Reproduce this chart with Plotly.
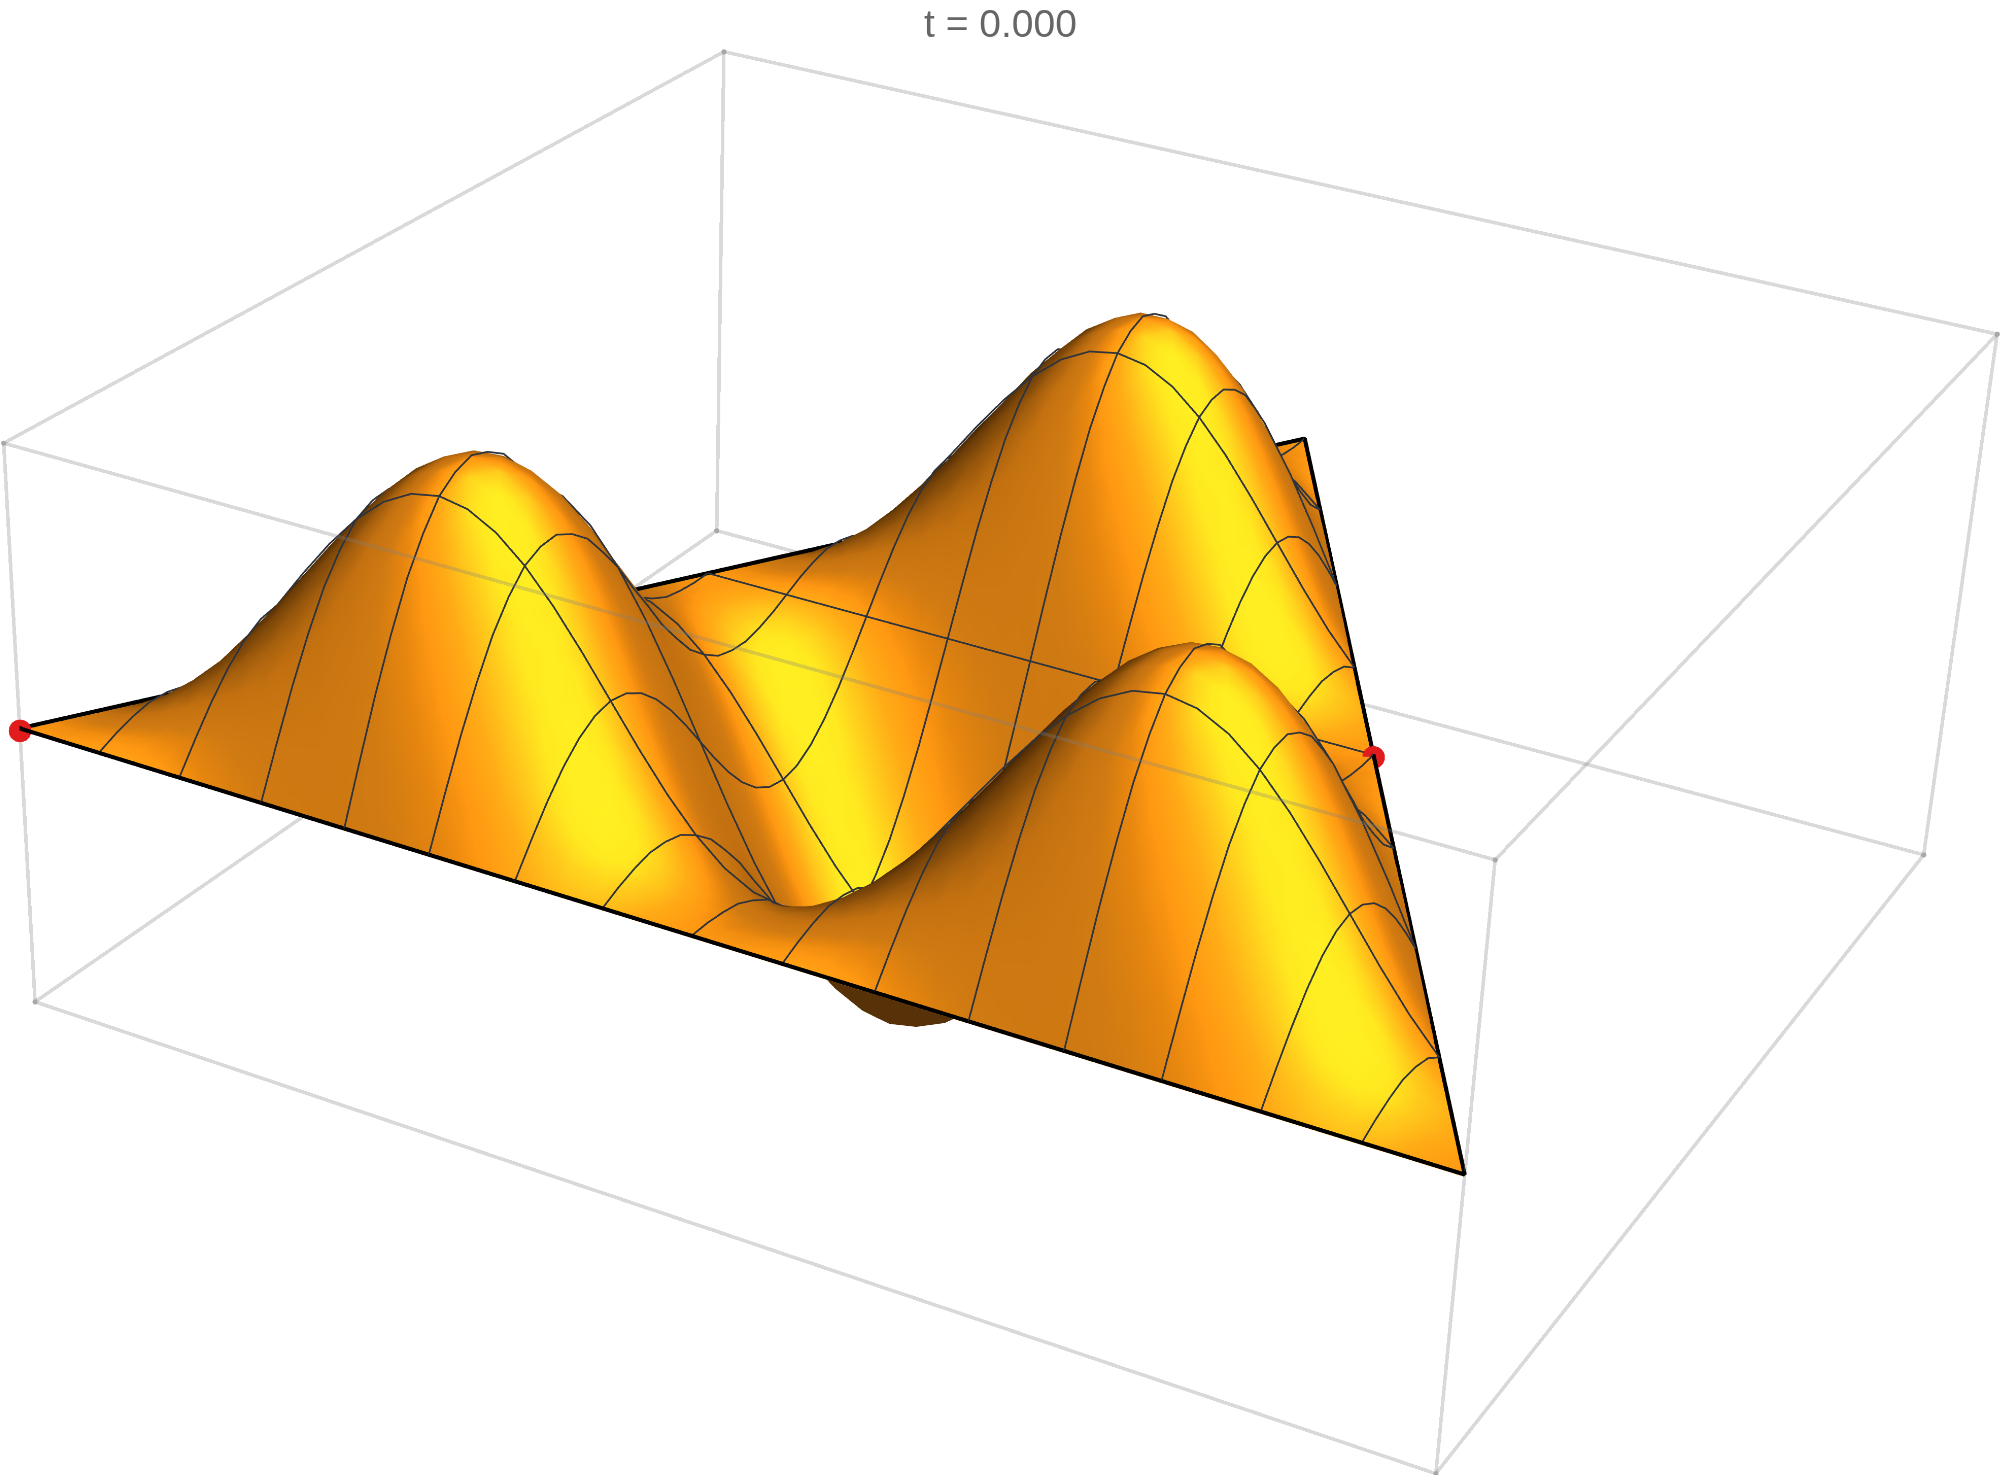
import numpy as np
import plotly.graph_objects as go

# ---- surface heights: one list per lattice row, repeating along the row
P0=[0]*24
P1=[0,.018,.052,.1,.159,.225,.293,.359,.418,.466,.5,.518,.518,.5,.466,.418,.359,.293,.225,.159,.1,.052,.018,0]
P2=[0,.052,.134,.241,.366,.5,.634,.759,.866,.948,1,1.018,1,.948,.866,.759,.634,.5,.366,.241,.134,.052,0,-.018]
P3=[0,.1,.241,.414,.607,.807,1,1.173,1.314,1.414,1.466,1.466,1.414,1.314,1.173,1,.807,.607,.414,.241,.1,0,-.052,-.052]
P4=[0,.159,.366,.607,.866,1.125,1.366,1.573,1.732,1.832,1.866,1.832,1.732,1.573,1.366,1.125,.866,.607,.366,.159,0,-.1,-.134,-.1]
P5=[0,.225,.5,.807,1.125,1.432,1.707,1.932,2.091,2.173,2.173,2.091,1.932,1.707,1.432,1.125,.807,.5,.225,0,-.159,-.241,-.241,-.159]
P6=[0,.293,.634,1,1.366,1.707,2,2.225,2.366,2.414,2.366,2.225,2,1.707,1.366,1,.634,.293,0,-.225,-.366,-.414,-.366,-.225]
P7=[0,.359,.759,1.173,1.573,1.932,2.225,2.432,2.539,2.539,2.432,2.225,1.932,1.573,1.173,.759,.359,0,-.293,-.5,-.607,-.607,-.5,-.293]
P8=[0,.418,.866,1.314,1.732,2.091,2.366,2.539,2.598,2.539,2.366,2.091,1.732,1.314,.866,.418,0,-.359,-.634,-.807,-.866,-.807,-.634,-.359]
P9=[0,.466,.948,1.414,1.832,2.173,2.414,2.539,2.539,2.414,2.173,1.832,1.414,.948,.466,0,-.418,-.759,-1,-1.125,-1.125,-1,-.759,-.418]
P10=[0,.5,1,1.466,1.866,2.173,2.366,2.432,2.366,2.173,1.866,1.466,1,.5,0,-.466,-.866,-1.173,-1.366,-1.432,-1.366,-1.173,-.866,-.466]
P11=[0,.518,1.018,1.466,1.832,2.091,2.225,2.225,2.091,1.832,1.466,1.018,.518,0,-.5,-.948,-1.314,-1.573,-1.707,-1.707,-1.573,-1.314,-.948,-.5]
P12=[0,.518,1,1.414,1.732,1.932,2,1.932,1.732,1.414,1,.518,0,-.518,-1,-1.414,-1.732,-1.932,-2,-1.932,-1.732,-1.414,-1,-.518]
P13=[0,.5,.948,1.314,1.573,1.707,1.707,1.573,1.314,.948,.5,0,-.518,-1.018,-1.466,-1.832,-2.091,-2.225,-2.225,-2.091,-1.832,-1.466,-1.018,-.518]
P14=[0,.466,.866,1.173,1.366,1.432,1.366,1.173,.866,.466,0,-.5,-1,-1.466,-1.866,-2.173,-2.366,-2.432,-2.366,-2.173,-1.866,-1.466,-1,-.5]
P15=[0,.418,.759,1,1.125,1.125,1,.759,.418,0,-.466,-.948,-1.414,-1.832,-2.173,-2.414,-2.539,-2.539,-2.414,-2.173,-1.832,-1.414,-.948,-.466]
P16=[0,.359,.634,.807,.866,.807,.634,.359,0,-.418,-.866,-1.314,-1.732,-2.091,-2.366,-2.539,-2.598,-2.539,-2.366,-2.091,-1.732,-1.314,-.866,-.418]
P17=[0,.293,.5,.607,.607,.5,.293,0,-.359,-.759,-1.173,-1.573,-1.932,-2.225,-2.432,-2.539,-2.539,-2.432,-2.225,-1.932,-1.573,-1.173,-.759,-.359]
P18=[0,.225,.366,.414,.366,.225,0,-.293,-.634,-1,-1.366,-1.707,-2,-2.225,-2.366,-2.414,-2.366,-2.225,-2,-1.707,-1.366,-1,-.634,-.293]
P19=[0,.159,.241,.241,.159,0,-.225,-.5,-.807,-1.125,-1.432,-1.707,-1.932,-2.091,-2.173,-2.173,-2.091,-1.932,-1.707,-1.432,-1.125,-.807,-.5,-.225]
P20=[0,.1,.134,.1,0,-.159,-.366,-.607,-.866,-1.125,-1.366,-1.573,-1.732,-1.832,-1.866,-1.832,-1.732,-1.573,-1.366,-1.125,-.866,-.607,-.366,-.159]
P21=[0,.052,.052,0,-.1,-.241,-.414,-.607,-.807,-1,-1.173,-1.314,-1.414,-1.466,-1.466,-1.414,-1.314,-1.173,-1,-.807,-.607,-.414,-.241,-.1]
P22=[0,.018,0,-.052,-.134,-.241,-.366,-.5,-.634,-.759,-.866,-.948,-1,-1.018,-1,-.948,-.866,-.759,-.634,-.5,-.366,-.241,-.134,-.052]
P23=[0,0,-.018,-.052,-.1,-.159,-.225,-.293,-.359,-.418,-.466,-.5,-.518,-.518,-.5,-.466,-.418,-.359,-.293,-.225,-.159,-.1,-.052,-.018]
PROFILES=[P0,P1,P2,P3,P4,P5,P6,P7,P8,P9,P10,P11,P12,P13,P14,P15,P16,P17,P18,P19,P20,P21,P22,P23]

N=48
ZMAX=2.635
TITLE="t = 0.000"
MESH_X=[k/16 for k in range(1,16)]
MESH_Y=[k/8 for k in range(1,8)]
RED_X=[0,.75]
RED_Y=[0,.5]
EDGE_X=[0,1,.5,0]
EDGE_Y=[0,0,1,0]

# ---- view, calibrated against the box corners of the reference
BY,CZ=.8661,.4007
EYE=(1.3122,-2.6251,1.4642)
CEN=(-.042,-.0235,-.0124)
UP=(-.2429,.3805,.892)
CX,CY=956.9,677.7
H=4090.0
W=2*max(CX,2000-CX)+2
LEFT=W/2-CX; TOP=H/2-CY

# ---- lattice
z_rows=[[PROFILES[j%24][i%24] for i in range(N-j+1)] for j in range(N+1)]
idx={}; xs=[];ys=[];zs=[]
for j,row in enumerate(z_rows):
    for i,v in enumerate(row):
        idx[(i,j)]=len(xs); xs.append((i+j/2)/N); ys.append(j/N); zs.append(v)
xs=np.array(xs);ys=np.array(ys);zs=np.array(zs)
I=[];J=[];K=[]
for j in range(N):
    for i in range(N-j):
        I.append(idx[(i,j)]);J.append(idx[(i+1,j)]);K.append(idx[(i,j+1)])
        if i<N-j-1:
            I.append(idx[(i+1,j)]);J.append(idx[(i+1,j+1)]);K.append(idx[(i,j+1)])
I=np.array(I);J=np.array(J);K=np.array(K)
D=np.c_[xs,ys*BY,zs*CZ/(2*ZMAX)]
nrm=np.zeros_like(D)
fn=np.cross(D[J]-D[I],D[K]-D[I])
for a in (I,J,K): np.add.at(nrm,a,fn)
nrm/=np.linalg.norm(nrm,axis=1,keepdims=True)
LIGHT=np.array([.54,-.36,.76]); LIGHT=LIGHT/np.linalg.norm(LIGHT)
inten=nrm@LIGHT

CS=[[0,'#2e1a02'],[.2,'#5a3206'],[.4,'#8a4f0a'],[.56,'#c27010'],[.66,'#d07a12'],[.71,'#e6860f'],[.76,'#ff9812'],[.83,'#ffab16'],[.9,'#ffca1c'],[.96,'#ffe820'],[1,'#fff022']]

fig=go.Figure()
# the underside of the central hollow, seen below the front edge
low=(np.maximum.reduce([zs[I],zs[J],zs[K]])<=0)&(np.minimum.reduce([zs[I],zs[J],zs[K]])<-.2)
fig.add_trace(go.Mesh3d(x=xs,y=ys,z=zs-.03,i=I[low],j=J[low],k=K[low],color='#573208',lighting=dict(ambient=1,diffuse=0,specular=0,fresnel=0),hoverinfo='skip'))
fig.add_trace(go.Mesh3d(x=xs,y=ys,z=zs,i=I,j=J,k=K,intensity=inten,intensitymode='vertex',colorscale=CS,cmin=0,cmax=1,showscale=False,
    flatshading=False,lighting=dict(ambient=1,diffuse=0,specular=0,fresnel=0,roughness=1),hoverinfo='skip'))

LIFT=.02
lx=[];ly=[];lz=[]
for yv in MESH_Y:
    j=int(round(yv*N))
    for i,v in enumerate(z_rows[j]):
        lx.append((i+j/2)/N);ly.append(j/N);lz.append(v)
    lx.append(None);ly.append(None);lz.append(None)
for xv in MESH_X:
    for j in range(N+1):
        ii=xv*N-j/2
        if ii<-1e-9 or ii>N-j+1e-9: continue
        a=int(np.floor(ii)); fr=ii-a
        row=z_rows[j]
        v=row[a] if fr<1e-9 else (1-fr)*row[a]+fr*row[a+1]
        lx.append(xv);ly.append(j/N);lz.append(v)
    lx.append(None);ly.append(None);lz.append(None)
up_z=[None if v is None else v+LIFT for v in lz]
fig.add_trace(go.Scatter3d(x=lx,y=ly,z=up_z,mode='lines',line=dict(color='#2f343c',width=3.5),hoverinfo='skip'))

fig.add_trace(go.Scatter3d(x=EDGE_X,y=EDGE_Y,z=[.02]*4,mode='lines',line=dict(color='black',width=8),hoverinfo='skip'))
fig.add_trace(go.Scatter3d(x=RED_X,y=RED_Y,z=[0,0],mode='markers',marker=dict(color='#e01c1c',size=13,line=dict(width=0)),hoverinfo='skip'))
bx=[];by=[];bz=[]
c3=[(0,0),(1,0),(1,1),(0,1)]
for q in range(4):
    a=c3[q];b=c3[(q+1)%4]
    for zz in (-ZMAX,ZMAX):
        bx+=[a[0],b[0],None];by+=[a[1],b[1],None];bz+=[zz,zz,None]
    bx+=[a[0],a[0],None];by+=[a[1],a[1],None];bz+=[-ZMAX,ZMAX,None]
fig.add_trace(go.Scatter3d(x=bx,y=by,z=bz,mode='lines',opacity=.3,line=dict(color='#808080',width=7),hoverinfo='skip'))
fig.add_trace(go.Scatter3d(x=[p[0] for p in c3]*2,y=[p[1] for p in c3]*2,z=[-ZMAX]*4+[ZMAX]*4,mode='markers',marker=dict(color='#a8a8a8',size=3,line=dict(width=0)),hoverinfo='skip'))

ax=dict(visible=False,showgrid=False,zeroline=False,showbackground=False,showspikes=False)
PAD=.0005
fig.update_layout(width=W,height=H,autosize=False,margin=dict(l=0,r=0,t=0,b=0,pad=0),paper_bgcolor='white',showlegend=False,
 scene=dict(domain=dict(x=[0,1],y=[0,1]),bgcolor='white',
  xaxis=dict(ax,range=[-PAD,1+PAD]),yaxis=dict(ax,range=[-PAD,1+PAD]),zaxis=dict(ax,range=[-ZMAX*(1+2*PAD),ZMAX*(1+2*PAD)]),
  aspectmode='manual',aspectratio=dict(x=1,y=BY,z=CZ),
  camera=dict(eye=dict(x=EYE[0],y=EYE[1],z=EYE[2]),center=dict(x=CEN[0],y=CEN[1],z=CEN[2]),up=dict(x=UP[0],y=UP[1],z=UP[2]),projection=dict(type='perspective'))),
 annotations=[dict(text=TITLE,x=(1000+LEFT)/W,y=1-(23+TOP)/H,xref='paper',yref='paper',xanchor='center',yanchor='middle',showarrow=False,font=dict(family='Liberation Sans, Arial, sans-serif',size=39,color='#666666'))])
post=f"""var gd=document.getElementById('{{plot_id}}');document.documentElement.style.overflow='hidden';document.body.style.overflow='hidden';document.body.style.margin='0';gd.style.position='absolute';gd.style.left='{-LEFT:.1f}px';gd.style.top='{-TOP:.1f}px';"""
fig.write_html("out.html",post_script=post)
